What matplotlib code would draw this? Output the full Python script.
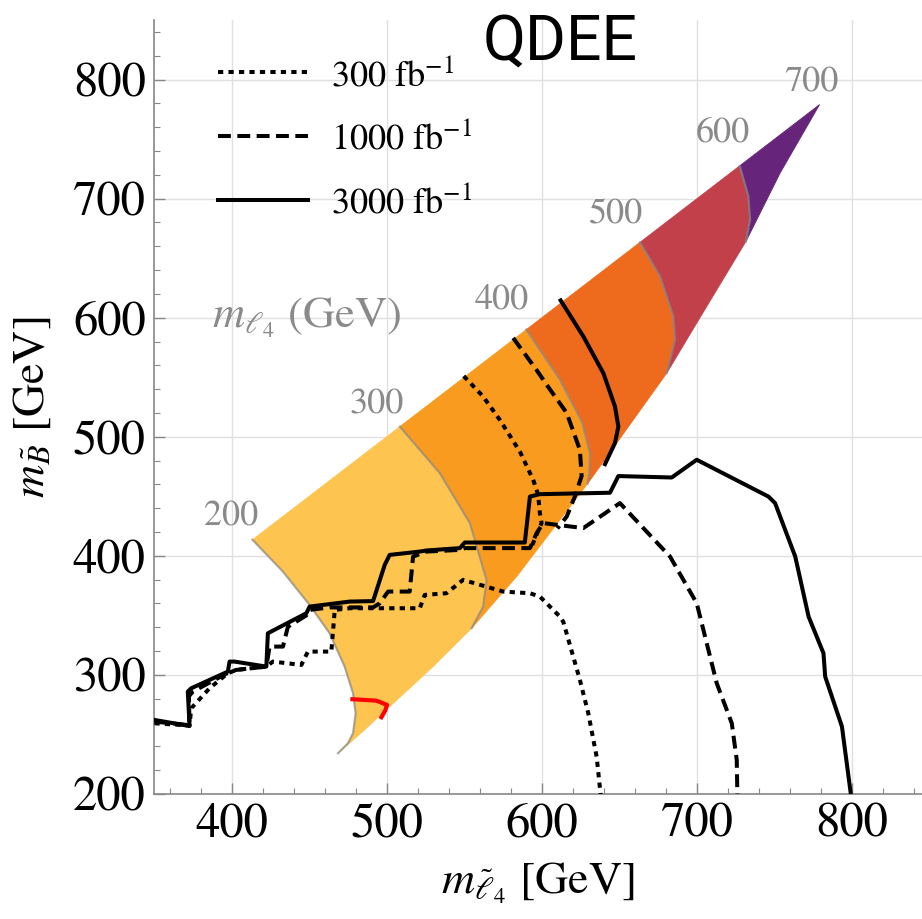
import numpy as np
import matplotlib.pyplot as plt
from matplotlib.ticker import MultipleLocator

plt.rcParams['font.family'] = ['STIXGeneral', 'DejaVu Sans']
plt.rcParams['mathtext.fontset'] = 'stix'

# m_l4 contour levels (GeV) and band colours between them
levels = [200, 300, 400, 500, 600, 700]
band_colors = ['#FDC450', '#F99B1F', '#EE6A1C', '#C1404A', '#66247A']

# contour lines, from the diagonal down to the lower edge of the region
c200_x = [413.5, 433.1, 450.3, 463.2, 472.9, 478.3, 480.0, 478.3, 475.0, 468.6]
c200_y = [413.5, 386.8, 358.8, 335.0, 307.0, 284.6, 267.8, 251.0, 242.6, 234.2]
c300_x = [508.5, 534.2, 553.6, 564.3, 562.2, 554.7]
c300_y = [508.5, 469.5, 427.5, 379.8, 357.4, 339.2]
c400_x = [590.0, 611.6, 626.0, 631.0, 630.5, 629.4]
c400_y = [590.0, 548.0, 512.0, 486.0, 470.0, 460.5]
c500_x = [663.2, 676.1, 684.7, 685.8, 680.5]
c500_y = [663.2, 634.7, 601.1, 581.5, 553.5]
c600_x = [727.5, 733.1, 734.2, 731.5]
c600_y = [727.5, 701.9, 682.3, 664.0]
c700_x = [779.0]
c700_y = [779.0]

# lower edge of the allowed region
low_x = [468.6, 485.0, 501.9, 529.9, 554.7, 583.7, 629.4, 680.5, 699.8, 731.5, 753.6, 779.0]
low_y = [234.2, 253.0, 273.4, 307.0, 339.2, 382.6, 460.5, 553.5, 595.5, 664.0, 721.6, 779.0]

# contour label positions
lab_x = [399.8, 493.4, 574.0, 648.0, 716.5, 774.0]
lab_y = [433.0, 527.0, 615.0, 686.0, 755.0, 797.0]

# reach curves: 300, 1000, 3000 fb^-1
dot_x = [350.3, 372.9, 374.0, 385.8, 397.6, 403.0, 422.4, 426.6, 445.0, 449.2, 464.3, 466.5,
         476.1, 496.6, 521.3, 524.5, 538.5, 549.2, 575.1, 592.3, 598.7, 611.6, 613.8, 624.5,
         629.9, 635.3, 637.9]
dot_y = [259.4, 257.5, 272.0, 288.8, 301.4, 304.2, 307.0, 311.2, 308.4, 319.6, 319.6, 354.6,
         356.0, 356.0, 356.0, 367.2, 368.6, 379.8, 370.0, 368.6, 365.8, 349.0, 344.6, 295.8,
         267.8, 231.3, 199.2]
dash_x = [350.3, 372.9, 372.5, 375.0, 397.6, 403.0, 422.4, 424.5, 433.1, 436.3, 448.2, 450.3,
          463.2, 491.2, 495.5, 500.9, 514.8, 517.0, 525.6, 547.1, 550.3, 592.3, 596.6, 600.8,
          626.7, 650.3, 682.6, 699.8, 712.7, 722.4, 725.6, 726.0]
dash_y = [260.8, 257.8, 282.0, 286.0, 301.8, 304.2, 307.0, 323.8, 323.8, 340.4, 350.0, 354.6,
          356.7, 356.7, 360.2, 370.0, 370.0, 399.4, 403.6, 405.0, 406.5, 406.5, 419.0, 427.5,
          423.3, 444.3, 399.4, 360.2, 293.0, 259.4, 228.6, 199.2]
sol_x = [350.3, 372.9, 371.8, 374.0, 397.6, 398.7, 401.9, 422.4, 423.4, 448.2, 450.3, 476.1,
         491.2, 498.7, 501.9, 521.3, 525.6, 547.1, 550.3, 589.0, 592.3, 598.7, 643.9, 649.3,
         683.7, 699.8, 746.0, 750.3, 763.3, 771.9, 781.5, 782.6, 793.4, 799.2]
sol_y = [262.2, 257.1, 286.0, 288.8, 302.8, 311.2, 311.2, 307.0, 335.0, 351.8, 357.4, 361.6,
         362.0, 392.4, 400.8, 403.6, 404.5, 406.5, 411.2, 411.2, 449.8, 451.8, 453.0, 467.0,
         465.8, 480.7, 449.8, 444.3, 399.4, 349.0, 318.2, 298.6, 256.6, 199.2]

# reach curves drawn inside the coloured region
dot_in_x = [549.6, 562.0, 573.0, 585.8, 594.4, 597.6, 598.7, 599.8, 596.0, 593.0]
dot_in_y = [551.0, 534.0, 514.0, 487.6, 463.9, 451.3, 436.0, 427.5, 416.0, 406.5]
dash_in_x = [581.5, 596.6, 604.0, 616.0, 624.5, 625.6, 621.3, 616.0, 610.0]
dash_in_y = [583.0, 556.0, 542.0, 520.0, 489.0, 467.0, 450.0, 433.0, 423.0]
sol_in_x = [612.1, 626.7, 639.6, 647.1, 649.3, 647.1, 640.7]
sol_in_y = [614.5, 584.3, 553.5, 525.5, 508.6, 494.7, 477.0]

red_x = [477.9, 493.4, 500.2, 499.0, 496.6]
red_y = [279.6, 278.4, 274.8, 270.0, 264.5]

lumis = ['300 fb$^{-1}$', '1000 fb$^{-1}$', '3000 fb$^{-1}$']

fig = plt.figure(figsize=(9.22, 9.19), dpi=100)
ax = fig.add_axes([154 / 922, 125 / 919, 768 / 922, 774 / 919])

contours = [(c200_x, c200_y), (c300_x, c300_y), (c400_x, c400_y),
            (c500_x, c500_y), (c600_x, c600_y), (c700_x, c700_y)]
lx = np.array(low_x)
ly = np.array(low_y)
for k in range(len(band_colors)):
    xa, ya = contours[k]
    xb, yb = contours[k + 1]
    m = (lx > xa[-1]) & (lx < xb[-1])
    px = list(xa) + list(lx[m]) + list(xb)[::-1]
    py = list(ya) + list(ly[m]) + list(yb)[::-1]
    ax.fill(px, py, facecolor=band_colors[k], edgecolor=band_colors[k], lw=0.6, zorder=1)

for (cx, cy) in contours[:-1]:
    ax.plot(cx, cy, color='#8c8c8c', lw=1.6, alpha=0.7, zorder=2)

for lev, tx, ty in zip(levels, lab_x, lab_y):
    ax.text(tx, ty, str(lev), color='#8a8a8a', fontsize=26, ha='center', va='center')
ax.text(448.5, 600, r'$m_{\ell_4}$ (GeV)', color='#8a8a8a', fontsize=32,
        ha='center', va='center')

lw = 2.9
dotted = (0, (1.3, 1.3))
dashed = (0, (3.2, 1.6))
l1, = ax.plot(dot_x, dot_y, color='black', lw=lw, ls=dotted, zorder=3)
l2, = ax.plot(dash_x, dash_y, color='black', lw=lw, ls=dashed, zorder=3)
l3, = ax.plot(sol_x, sol_y, color='black', lw=lw, zorder=3)
ax.plot(dot_in_x, dot_in_y, color='black', lw=lw, ls=dotted, zorder=3)
ax.plot(dash_in_x, dash_in_y, color='black', lw=lw, ls=dashed, zorder=3)
ax.plot(sol_in_x, sol_in_y, color='black', lw=lw, zorder=3)
ax.plot(red_x, red_y, color='red', lw=3, zorder=3)

ax.legend([l1, l2, l3], lumis, loc='upper left', bbox_to_anchor=(218 / 922, 1 - 58 / 919),
          bbox_transform=fig.transFigure, frameon=False, fontsize=26, handlelength=2.5,
          handletextpad=0.62, labelspacing=0.8, borderpad=0, borderaxespad=0)

ax.set_xlim(350, 845)
ax.set_ylim(200, 850)
ax.xaxis.set_major_locator(MultipleLocator(100))
ax.yaxis.set_major_locator(MultipleLocator(100))
ax.xaxis.set_minor_locator(MultipleLocator(20))
ax.yaxis.set_minor_locator(MultipleLocator(20))
ax.grid(True, which='major', color='#e0e0e0', lw=1, zorder=0)
ax.set_axisbelow(True)
for s in ['top', 'right']:
    ax.spines[s].set_visible(False)
for s in ['left', 'bottom']:
    ax.spines[s].set_color('#888888')
    ax.spines[s].set_linewidth(1.2)
ax.tick_params(which='both', direction='in', color='#888888', labelsize=35)
ax.tick_params(which='major', length=8, width=1, pad=6)
ax.tick_params(which='minor', length=4, width=0.8)

ax.set_xlabel(r'$m_{\tilde{\ell}_4}$ [GeV]', fontsize=33, labelpad=10)
ax.set_ylabel(r'$m_{\tilde{B}}$ [GeV]', fontsize=33, labelpad=14)

fig.text(560 / 922, 1 - 60 / 919, 'QDEE', fontsize=45, family='Roboto',
         ha='center', va='baseline')

fig.savefig('out.png', dpi=100)
